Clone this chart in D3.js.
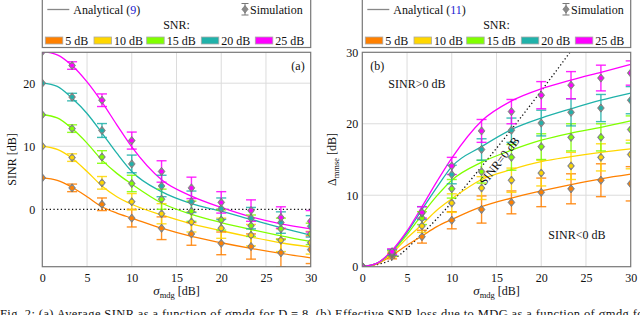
<!DOCTYPE html>
<html>
<head>
<meta charset="utf-8">
<script src="https://cdn.jsdelivr.net/npm/d3@7"></script>
<style>
  body { margin: 0; background: #fff; }
  svg text { font-family: "Liberation Serif", "DejaVu Serif", serif; fill: #111; }
</style>
</head>
<body>
<svg id="chart" width="640" height="315"></svg>
<script>
// ---- data ----
const snrLabels = ['5 dB', '10 dB', '15 dB', '20 dB', '25 dB'];
const snrColors = ['#ff8000', '#ffd700', '#80ff00', '#20b2aa', '#ff00ff'];

// x grid of the analytical curves (sigma_mdg in dB)
const curveX = [0, 1.67, 3.33, 5, 6.67, 8.33, 10, 13.33, 16.67, 20, 23.33, 26.67, 30];
// x positions of the simulation points
const simX = [0, 3.33, 6.67, 10, 13.33, 16.67, 20, 23.33, 26.67, 30];

// (a) SINR [dB], analytical
const sinr5  = [5, 4.6, 3.5, 2.0, 0.4, -0.6, -1.4, -3.0, -4.3, -5.3, -6.2, -7.0, -7.7];
const sinr10 = [10, 9.5, 8.1, 6.0, 3.7, 2.0, 0.8, -0.9, -2.3, -3.4, -4.4, -5.3, -6.0];
const sinr15 = [15, 14.5, 12.8, 10.5, 7.8, 5.7, 4.0, 1.0, -0.8, -2.1, -3.2, -4.2, -5.1];
const sinr20 = [20, 19.5, 17.6, 15.2, 12.1, 8.9, 6.0, 2.8, 0.9, -0.3, -1.6, -2.9, -4.1];
const sinr25 = [25, 24.5, 22.8, 20.2, 17.0, 13.4, 9.9, 4.7, 2.1, 0.3, -1.2, -2.3, -3.1];

// (a) SINR [dB], simulation
const simA5  = [5, 3.4, 0.8, -1.4, -3.0, -3.9, -5.4, -5.9, -6.9, -6.4];
const simA10 = [10, 8.2, 4.2, 1.2, -0.7, -2.0, -3.0, -4.1, -4.9, -5.3];
const simA15 = [15, 12.8, 8.3, 4.1, 1.6, -0.3, -1.7, -2.6, -3.1, -3.9];
const simA20 = [20, 17.8, 12.5, 7.2, 3.7, 1.2, 0.1, -1.4, -2.1, -2.7];
const simA25 = [25, 22.8, 17.3, 10.9, 6.0, 3.4, 1.1, -0.2, -1.3, -1.9];
const errA5  = [0, 0.6, 1.0, 1.4, 1.8, 1.8, 1.8, 2.0, 2.2, 2.2];
const errA10 = [0, 0.6, 1.0, 1.3, 1.6, 1.6, 1.6, 1.7, 1.8, 1.8];
const errA15 = [0, 0.6, 1.0, 1.3, 1.6, 1.6, 1.6, 1.7, 1.7, 1.7];
const errA20 = [0, 0.6, 1.1, 1.4, 1.7, 1.7, 1.7, 1.7, 1.7, 1.7];
const errA25 = [0, 0.6, 1.0, 1.35, 1.7, 1.7, 1.7, 1.7, 1.7, 1.7];

// (b) Delta_mmse [dB], analytical
const loss5  = [0, 0.4, 1.6, 3.0, 4.3, 5.6, 6.6, 8.4, 9.6, 10.6, 11.5, 12.3, 12.95];
const loss10 = [0, 0.45, 1.9, 4.0, 5.9, 7.9, 9.5, 12.2, 13.6, 14.7, 15.4, 16.0, 16.5];
const loss15 = [0, 0.5, 2.1, 4.5, 7.3, 9.9, 12.1, 14.6, 16.3, 17.7, 18.7, 19.5, 20.4];
const loss20 = [0, 0.5, 2.2, 4.8, 8.0, 11.1, 14.0, 16.8, 19.2, 20.8, 22.1, 23.3, 24.3];
const loss25 = [0, 0.5, 2.3, 5.0, 8.4, 11.9, 15.2, 20.4, 23.2, 24.9, 26.1, 27.2, 28.3];

// (b) Delta_mmse [dB], simulation
const simB5  = [0, 1.5, 4.2, 6.5, 8.0, 9.0, 10.4, 10.9, 12.1, 11.6];
const simB10 = [0, 1.8, 5.7, 8.9, 11.0, 12.1, 13.1, 14.1, 15.3, 15.7];
const simB15 = [0, 1.9, 6.8, 10.9, 13.3, 15.3, 16.8, 18.1, 18.1, 19.2];
const simB20 = [0, 2.0, 7.5, 12.9, 16.4, 19.1, 20.1, 21.6, 22.2, 23.3];
const simB25 = [0, 2.1, 7.6, 14.1, 19.0, 21.7, 24.0, 25.4, 26.4, 27.1];
const errB5  = [0, 0.4, 0.9, 1.2, 1.9, 1.6, 2.0, 2.1, 2.3, 2.4];
const errB10 = [0, 0.4, 0.9, 1.3, 1.6, 1.7, 1.8, 1.9, 1.9, 2.0];
const errB15 = [0, 0.4, 0.9, 1.3, 1.6, 1.8, 1.8, 1.9, 1.9, 1.9];
const errB20 = [0, 0.4, 0.9, 1.3, 1.5, 1.7, 1.8, 1.9, 1.9, 1.9];
const errB25 = [0, 0.4, 0.8, 1.2, 1.6, 1.7, 1.9, 1.9, 1.8, 1.7];

// (b) SINR = 0 dB boundary
const boundX = [0, 3.33, 6.67, 10, 13.33, 16.67, 20, 23.33];
const boundY = [0, 1.0, 4.6, 9.0, 14.0, 19.2, 24.6, 30.2];

const xTicks = [0, 5, 10, 15, 20, 25, 30];

const svg = d3.select('#chart');

function drawPanel(p) {
  const x = d3.scaleLinear().domain([0, 30]).range([p.left, p.left + 268.4]);
  const y = d3.scaleLinear().domain(p.yDomain).range([266.7, 52.3]);
  const g = svg.append('g');

  // clip
  g.append('clipPath').attr('id', p.id + '-clip')
    .append('rect')
    .attr('x', x(0)).attr('y', 52.3)
    .attr('width', x(30) - x(0)).attr('height', 266.7 - 52.3);

  // grid
  g.selectAll('.vgrid').data(xTicks.slice(1, -1)).join('line')
    .attr('x1', d => x(d)).attr('x2', d => x(d))
    .attr('y1', 52.3).attr('y2', 266.7)
    .attr('stroke', '#dcdcdc').attr('stroke-width', 1);
  g.selectAll('.hgrid').data(p.yGrid).join('line')
    .attr('x1', x(0)).attr('x2', x(30))
    .attr('y1', d => y(d)).attr('y2', d => y(d))
    .attr('stroke', '#dcdcdc').attr('stroke-width', 1);

  // axes (labels only, frame drawn below)
  const xAxis = g.append('g').attr('transform', 'translate(0,266.7)')
    .call(d3.axisBottom(x).tickValues(xTicks).tickSize(0).tickPadding(7));
  const yAxis = g.append('g').attr('transform', `translate(${x(0)},0)`)
    .call(d3.axisLeft(y).tickValues(p.yTicks).tickSize(0).tickPadding(p.yPad));
  [xAxis, yAxis].forEach(a => {
    a.select('.domain').remove();
    a.selectAll('text').attr('font-size', 12).attr('font-family', '"Liberation Serif", serif').attr('fill', '#111');
  });

  const plot = g.append('g').attr('clip-path', `url(#${p.id}-clip)`);

  // dotted reference line
  const dotLine = d3.line().x(d => x(d[0])).y(d => y(d[1])).curve(d3.curveMonotoneX);
  plot.append('path')
    .datum(p.refX.map((v, i) => [v, p.refY[i]]))
    .attr('d', dotLine)
    .attr('fill', 'none').attr('stroke', '#111')
    .attr('stroke-width', 1.3).attr('stroke-dasharray', '1.3,2.4');

  // analytical curves
  const line = d3.line().x(d => x(d[0])).y(d => y(d[1])).curve(d3.curveMonotoneX);
  plot.selectAll('.curve').data(p.curves).join('path')
    .attr('d', (c) => line(curveX.map((v, i) => [v, c[i]])))
    .attr('fill', 'none')
    .attr('stroke', (c, i) => snrColors[i])
    .attr('stroke-width', 1.3);

  // simulation with error bars
  p.sims.forEach((s, k) => {
    const col = snrColors[k];
    const pts = simX.map((v, i) => ({ x: v, y: s[i], e: p.errs[k][i] }));
    const eg = plot.append('g');
    pts.filter(d => d.e > 0).forEach(d => {
      const cx = x(d.x), y1 = y(d.y + d.e), y2 = y(d.y - d.e);
      eg.append('line').attr('x1', cx).attr('x2', cx).attr('y1', y1).attr('y2', y2)
        .attr('stroke', col).attr('stroke-width', 1.4).attr('opacity', 0.85);
      [y1, y2].forEach(yy => eg.append('line')
        .attr('x1', cx - 5).attr('x2', cx + 5).attr('y1', yy).attr('y2', yy)
        .attr('stroke', col).attr('stroke-width', 1.4).attr('opacity', 0.85));
    });
  });
  p.sims.forEach((s, k) => {
    const col = snrColors[k];
    const mg = plot.append('g');
    simX.forEach((v, i) => {
      const cx = x(v), cy = y(s[i]);
      mg.append('path')
        .attr('d', `M${cx},${cy - 4.2}L${cx + 3.4},${cy}L${cx},${cy + 4.2}L${cx - 3.4},${cy}Z`)
        .attr('fill', '#8a8a8a').attr('stroke', '#6a6a6a').attr('stroke-width', 0.6);
      mg.append('circle').attr('cx', cx).attr('cy', cy).attr('r', 2)
        .attr('fill', col);
    });
  });

  // frame
  g.append('rect')
    .attr('x', x(0)).attr('y', 52.3)
    .attr('width', x(30) - x(0)).attr('height', 266.7 - 52.3)
    .attr('fill', 'none').attr('stroke', '#777').attr('stroke-width', 1.2);

  // axis titles
  const xt = g.append('text')
    .attr('x', (x(0) + x(30)) / 2).attr('y', 295)
    .attr('text-anchor', 'middle').attr('font-size', 12);
  xt.append('tspan').attr('font-style', 'italic').attr('font-size', 13).text('σ');
  xt.append('tspan').attr('font-size', 8.5).attr('dy', 3).text('mdg');
  xt.append('tspan').attr('dy', -3).text('  [dB]');

  const yt = g.append('text')
    .attr('transform', `translate(${p.yTitleX},${(52.3 + 266.7) / 2}) rotate(-90)`)
    .attr('text-anchor', 'middle').attr('font-size', 12);
  if (p.id === 'a') {
    yt.text('SINR [dB]');
  } else {
    yt.append('tspan').text('Δ');
    yt.append('tspan').attr('font-size', 8.5).attr('dy', 3).text('mmse');
    yt.append('tspan').attr('dy', -3).text(' [dB]');
  }

  // legend box
  const lx0 = x(0), lx1 = x(30);
  const lg = g.append('g');
  lg.append('rect').attr('x', lx0).attr('y', -1).attr('width', lx1 - lx0).attr('height', 48.5)
    .attr('fill', '#fff').attr('stroke', '#777').attr('stroke-width', 1.2);
  lg.append('line').attr('x1', lx0 + 5).attr('x2', lx0 + 27).attr('y1', 9.5).attr('y2', 9.5)
    .attr('stroke', '#888').attr('stroke-width', 1.3);
  const an = lg.append('text').attr('x', lx0 + 31).attr('y', 13.5).attr('font-size', 12);
  an.append('tspan').text('Analytical (');
  an.append('tspan').attr('fill', '#2020d0').style('fill', '#2020d0').text(p.eqRef);
  an.append('tspan').text(')');
  // simulation icon
  const sx = p.simIconX;
  lg.append('line').attr('x1', sx).attr('x2', sx).attr('y1', 3.5).attr('y2', 15)
    .attr('stroke', '#777').attr('stroke-width', 1);
  [3.5, 15].forEach(yy => lg.append('line').attr('x1', sx - 3.5).attr('x2', sx + 3.5)
    .attr('y1', yy).attr('y2', yy).attr('stroke', '#777').attr('stroke-width', 1));
  lg.append('path').attr('d', `M${sx},${5.5}L${sx + 3.2},${9.3}L${sx},${13.1}L${sx - 3.2},${9.3}Z`)
    .attr('fill', '#8a8a8a').attr('stroke', '#666').attr('stroke-width', 0.5);
  lg.append('text').attr('x', sx + 5).attr('y', 13.5).attr('font-size', 12).text('Simulation');
  lg.append('text').attr('x', (lx0 + lx1) / 2).attr('y', 29).attr('text-anchor', 'middle')
    .attr('font-size', 12).text('SNR:');
  const swX = [3, 51.7, 104.4, 159, 213];
  snrLabels.forEach((lab, i) => {
    lg.append('rect').attr('x', lx0 + swX[i]).attr('y', 37).attr('width', 17.5).attr('height', 7)
      .attr('fill', snrColors[i]).attr('stroke', '#aaa').attr('stroke-width', 0.8);
    lg.append('text').attr('x', lx0 + swX[i] + 20).attr('y', 44.5).attr('font-size', 12).text(lab);
  });

  p.annotate(g, x, y);
}

drawPanel({
  id: 'a', left: 42.3, yDomain: [-9.1, 24.9], yTicks: [0, 10, 20], yGrid: [10, 20], yPad: 7,
  yTitleX: 16, eqRef: '9', simIconX: 245,
  refX: [0, 30], refY: [0, 0],
  curves: [sinr5, sinr10, sinr15, sinr20, sinr25],
  sims: [simA5, simA10, simA15, simA20, simA25],
  errs: [errA5, errA10, errA15, errA20, errA25],
  annotate: (g, x, y) => {
    g.append('text').attr('x', x(30) - 6).attr('y', 69.5).attr('text-anchor', 'end')
      .attr('font-size', 12).text('(a)');
  }
});

drawPanel({
  id: 'b', left: 362.3, yDomain: [0, 30], yTicks: [0, 10, 20, 30], yGrid: [10, 20], yPad: 4,
  yTitleX: 336, eqRef: '11', simIconX: 566,
  refX: boundX, refY: boundY,
  curves: [loss5, loss10, loss15, loss20, loss25],
  sims: [simB5, simB10, simB15, simB20, simB25],
  errs: [errB5, errB10, errB15, errB20, errB25],
  annotate: (g, x, y) => {
    g.append('text').attr('x', x(0) + 8).attr('y', 70).attr('font-size', 12).text('(b)');
    g.append('text').attr('x', x(0) + 26).attr('y', 88).attr('font-size', 12).text('SINR>0 dB');
    g.append('text').attr('x', x(0) + 186).attr('y', 239).attr('font-size', 12).text('SINR<0 dB');
    g.append('text').attr('transform', `translate(485,186) rotate(-52)`)
      .attr('font-size', 12).text('SINR=0 dB');
  }
});

// caption (cut by the bottom edge)
svg.append('text').attr('x', 0).attr('y', 318).attr('font-size', 12.5)
  .attr('textLength', 648).attr('lengthAdjust', 'spacing')
  .text('Fig. 2: (a) Average SINR as a function of σmdg for D = 8. (b) Effective SNR loss due to MDG as a function of σmdg for');
</script>
</body>
</html>
